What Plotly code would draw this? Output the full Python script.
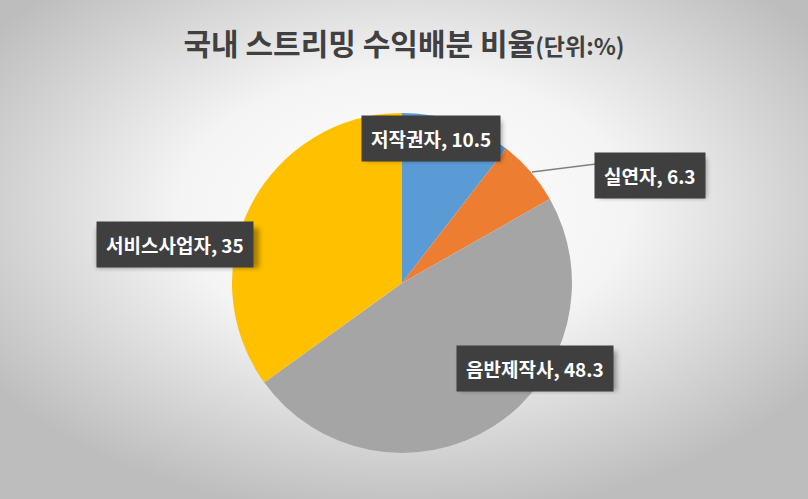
import base64
import plotly.graph_objects as go

# ── 데이터 ──────────────────────────────────────────────
labels = ["저작권자", "실연자", "음반제작사", "서비스사업자"]
values = [10.5, 6.3, 48.3, 35]
colors = ["#5B9BD5", "#ED7D31", "#A5A5A5", "#FFC000"]

W, H = 808, 499

# 라벨 박스 중심 위치 / 대략 폭 (픽셀, 좌상단 기준)
label_pos = {
    "저작권자": (431, 138),
    "실연자": (650, 175),
    "음반제작사": (535, 368),
    "서비스사업자": (175, 245),
}
label_w = {"저작권자": 136, "실연자": 107, "음반제작사": 157, "서비스사업자": 162}

def px(x, y):
    return x / W, 1 - y / H

# 배경: 방사형 그라데이션
svg = f"""<svg xmlns='http://www.w3.org/2000/svg' width='{W}' height='{H}'>
<defs><radialGradient id='g' cx='50%' cy='42%' r='62%'>
<stop offset='0%' stop-color='#ffffff'/>
<stop offset='45%' stop-color='#f4f4f4'/>
<stop offset='100%' stop-color='#bdbdbd'/>
</radialGradient></defs>
<rect width='100%' height='100%' fill='url(#g)'/></svg>"""
bg_src = "data:image/svg+xml;base64," + base64.b64encode(svg.encode()).decode()

# 파이 그림자
shadow_svg = f"""<svg xmlns='http://www.w3.org/2000/svg' width='{W}' height='{H}'>
<defs><filter id='b'><feGaussianBlur stdDeviation='9'/></filter></defs>
<circle cx='404' cy='290' r='170' fill='rgba(0,0,0,0.28)' filter='url(#b)'/></svg>"""
shadow_src = "data:image/svg+xml;base64," + base64.b64encode(shadow_svg.encode()).decode()

# 라벨 박스 그림자 (파이 위에 깔림)
rects = ""
for lab, (x, y) in label_pos.items():
    w = label_w[lab]
    rects += (f"<rect x='{x - w / 2 + 3}' y='{y - 20 + 3}' width='{w}' height='40' "
              f"fill='rgba(0,0,0,0.35)' filter='url(#s)'/>")
box_svg = f"""<svg xmlns='http://www.w3.org/2000/svg' width='{W}' height='{H}'>
<defs><filter id='s'><feGaussianBlur stdDeviation='2.5'/></filter></defs>{rects}</svg>"""
box_src = "data:image/svg+xml;base64," + base64.b64encode(box_svg.encode()).decode()

fig = go.Figure()

cx, cy, r = 402, 283, 170
x0, y_top = px(cx - r, cy - r)
x1, y_bot = px(cx + r, cy + r)

fig.add_trace(go.Pie(
    labels=labels,
    values=values,
    marker=dict(colors=colors, line=dict(width=0)),
    sort=False,
    direction="clockwise",
    rotation=0,
    textinfo="none",
    hoverinfo="label+value",
    showlegend=False,
    domain=dict(x=[x0, x1], y=[y_bot, y_top]),
))

annotations = []
for lab, val in zip(labels, values):
    lx, ly = label_pos[lab]
    ax, ay = px(lx, ly)
    annotations.append(dict(
        x=ax, y=ay, xref="paper", yref="paper",
        xanchor="center", yanchor="middle",
        text=f"<b>{lab}, {val:g}</b>", showarrow=False,
        font=dict(family="Noto Sans CJK KR", size=19, color="white"),
        bgcolor="#3f3f3f", borderpad=9,
    ))

lx0, ly0 = px(532, 172)
lx1, ly1 = px(596, 164)

fig.update_layout(
    width=W, height=H,
    margin=dict(l=0, r=0, t=0, b=0),
    paper_bgcolor="#e6e6e6",
    title=dict(
        text="<b>국내 스트리밍 수익배분 비율</b><b><span style='font-size:23px'>(단위:%)</span></b>",
        x=0.5, xanchor="center", y=1 - 44 / H, yanchor="middle",
        font=dict(family="Noto Sans CJK KR", size=30, color="#404040"),
    ),
    images=[
        dict(source=bg_src, xref="paper", yref="paper", x=0, y=1,
             sizex=1, sizey=1, sizing="stretch", layer="below"),
        dict(source=shadow_src, xref="paper", yref="paper", x=0, y=1,
             sizex=1, sizey=1, sizing="stretch", layer="below"),
        dict(source=box_src, xref="paper", yref="paper", x=0, y=1,
             sizex=1, sizey=1, sizing="stretch", layer="above"),
    ],
    shapes=[dict(type="line", xref="paper", yref="paper",
                 x0=lx0, y0=ly0, x1=lx1, y1=ly1,
                 line=dict(color="#7f7f7f", width=1.5))],
    annotations=annotations,
)

fig.write_html("out.html", config={"displayModeBar": False},
               post_script="document.body.style.margin='0';")
